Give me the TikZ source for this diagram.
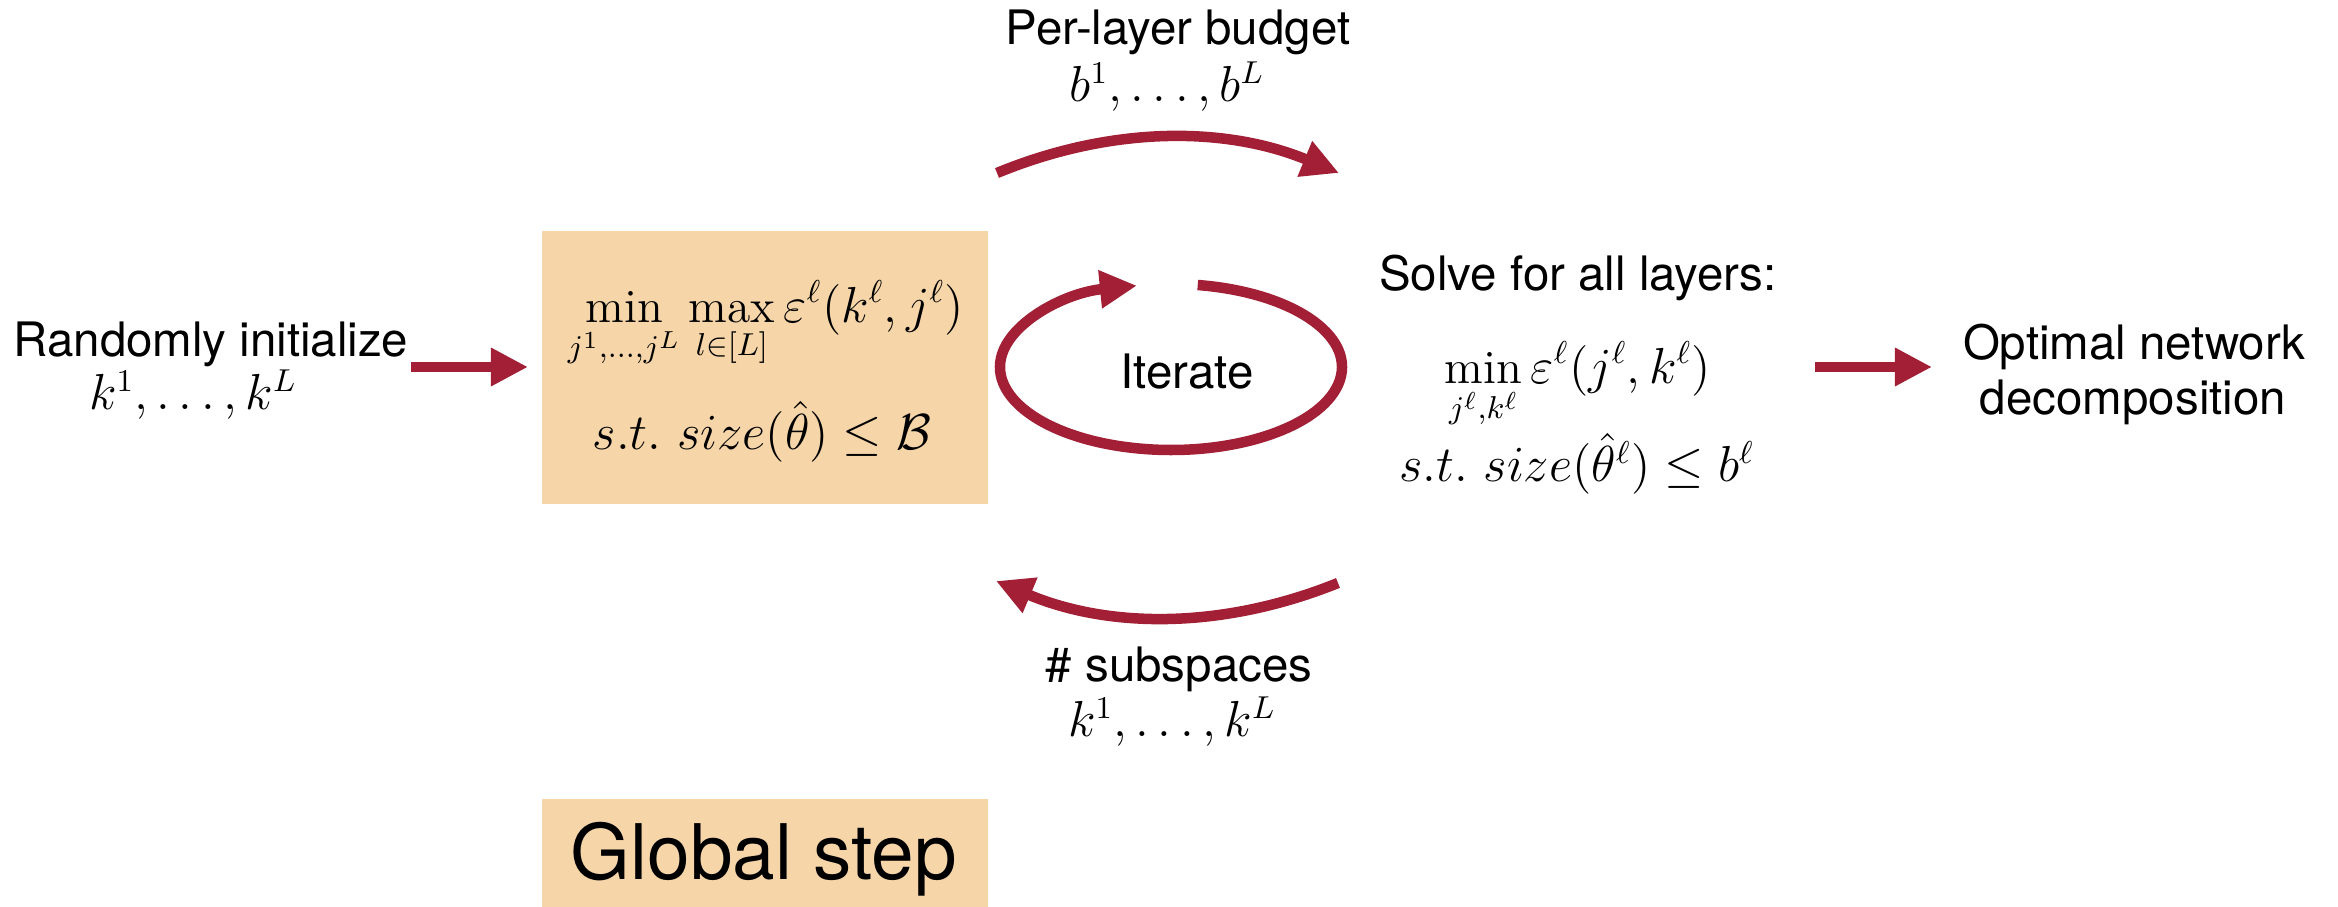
\documentclass[tikz,border=0pt]{standalone}
\usepackage{fontspec}
\usepackage{amsmath}
\usetikzlibrary{arrows.meta}
\newfontfamily\hv{TeX Gyre Heros}
\definecolor{arrred}{RGB}{162,31,54}
\definecolor{boxorange}{RGB}{246,214,169}
\tikzset{
  lbl/.style={font=\hv\fontsize{13.5}{16}\selectfont, anchor=base, inner sep=0pt},
  mth/.style={font=\fontsize{13.5}{16}\selectfont, anchor=base, inner sep=0pt},
  fat/.style={draw=arrred, line width=0.105cm, -{Triangle[length=0.37cm,width=0.36cm]}},
  panel/.style={fill=boxorange, draw=none, inner sep=0pt, anchor=north west},
}
\begin{document}
\begin{tikzpicture}[x=0.01cm,y=-0.01cm]
\useasboundingbox (0,0) rectangle (2338,907);
% panels
\node[panel, minimum width=4.46cm, minimum height=2.73cm] (gbox) at (541,230) {};
\node[panel, minimum width=4.46cm, minimum height=1.12cm] (gstep) at (541,798) {};
\node[font=\hv\fontsize{21.8}{26}\selectfont, anchor=base, inner sep=0pt] (gtxt) at (764,880) {Global step};
% left
\node[lbl] (rand) at (211,357) {Randomly initialize};
\node[mth] (randk) at (193,410) {$k^1,\dots,k^L$};
\coordinate (a1s) at (411,367);
\coordinate (a1e) at (528,367);
\draw[fat] (a1s) -- (a1e);
% global box content
\node[mth] (obj) at (766,323) {$\displaystyle\min_{j^1,\dots,j^L}\max_{l\in[L]}\varepsilon^{\ell}(k^{\ell},j^{\ell})$};
\node[mth] (cons) at (762,450) {$s.t.\ size(\hat{\theta})\le\mathcal{B}$};
% iterate loop
\node[lbl] (iter) at (1187,389) {Iterate};
\coordinate (ic) at (1171,367);
\draw[fat] (ic) ++(-81:171 and 83) arc[start angle=-81, end angle=258.5, x radius=171, y radius=83];
% upper arrow
\node[lbl] (budget) at (1178,45) {Per-layer budget};
\node[mth] (bvals) at (1167,102) {$b^1,\dots,b^L$};
\coordinate (u1) at (997,173);
\coordinate (u2) at (1339,173);
\draw[fat] (u1) .. controls (1111,126) and (1225,126) .. (u2);
% lower arrow
\coordinate (l1) at (1338,583);
\coordinate (l2) at (996,581);
\draw[fat] (l1) .. controls (1224,629) and (1110,629) .. (l2);
\node[lbl] (subsp) at (1179,682) {\# subspaces};
\node[mth] (kvals) at (1172,737) {$k^1,\dots,k^L$};
% right: local step
\node[lbl] (solve) at (1578,291) {Solve for all layers:};
\node[mth] (lobj) at (1578,384) {$\displaystyle\min_{j^{\ell},k^{\ell}}\varepsilon^{\ell}(j^{\ell},k^{\ell})$};
\node[mth] (lcons) at (1577,482) {$s.t.\ size(\hat{\theta}^{\ell})\le b^{\ell}$};
\coordinate (a2s) at (1815,367);
\coordinate (a2e) at (1932,367);
\draw[fat] (a2s) -- (a2e);
\node[lbl] (opt1) at (2134,360) {Optimal network};
\node[lbl] (opt2) at (2133,415) {decomposition};
\end{tikzpicture}
\end{document}
